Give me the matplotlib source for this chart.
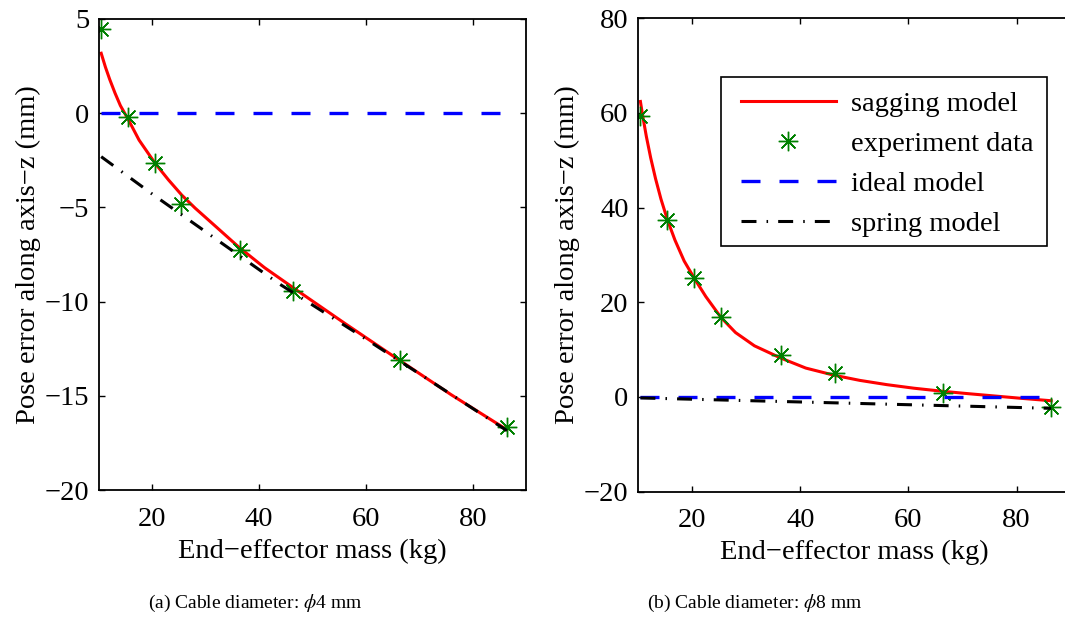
import numpy as np
import matplotlib
matplotlib.use("Agg")
import matplotlib.pyplot as plt
import matplotlib.patches as patches

plt.rcParams['font.family'] = ['Liberation Serif', 'DejaVu Serif']
plt.rcParams['mathtext.fontset'] = 'stix'

# experiment masses (kg)
mass = [10.4, 15.4, 20.4, 25.4, 36.4, 46.4, 66.4, 86.4]

# (a) cable diameter 4 mm
exp_a = [4.47, -0.19, -2.63, -4.82, -7.26, -9.44, -13.12, -16.67]
sag_a_x = [10.4, 11.2, 12.0, 13.0, 14.0, 15.5, 17.5, 20.5, 23.0, 25.5, 28.0,
           32.0, 36.1, 41.0, 46.8, 56.0, 66.3, 76.0, 86.4]
sag_a_y = [3.18, 2.44, 1.79, 1.06, 0.40, -0.35, -1.43, -2.66, -3.54, -4.35, -5.04,
           -6.05, -7.09, -8.20, -9.35, -11.15, -13.12, -14.95, -16.80]
spr_a_x = [10.4, 20.0, 30.0, 43.6, 58.3, 72.0, 86.4]
spr_a_y = [-2.31, -4.30, -6.30, -9.03, -11.68, -14.20, -16.85]

# (b) cable diameter 8 mm
exp_b = [59.4, 37.4, 25.1, 16.8, 8.9, 5.1, 0.8, -2.1]
sag_b_x = [10.4, 10.8, 11.5, 12.3, 13.2, 14.2, 15.4, 16.8, 18.5, 20.4, 22.5, 25.3,
           28.0, 31.5, 36.4, 41.0, 46.2, 51.0, 56.0, 61.0, 66.3, 71.0, 76.0, 81.0, 86.4]
sag_b_y = [62.4, 59.5, 55.0, 50.5, 46.1, 41.8, 37.4, 33.1, 28.7, 25.0, 21.2, 16.8,
           13.6, 10.8, 8.2, 6.1, 4.6, 3.5, 2.6, 1.85, 1.2, 0.7, 0.2, -0.3, -0.8]
spr_b_x = [10.4, 86.4]
spr_b_y = [-0.2, -2.4]

ideal_x = [10.4, 86.4]
ideal_y = [0, 0]

fig = plt.figure(figsize=(10.65, 6.19), dpi=100)
ax1 = fig.add_axes([0.093, 0.2084, 0.401, 0.761])
ax2 = fig.add_axes([0.5993, 0.2057, 0.406, 0.765])

star = (8, 2, 0)
fs = 20.5

def draw(ax, sx, sy, ey, px, py, ylim, yticks):
    ax.plot(sx, sy, color='red', lw=2.2, label='sagging model')
    ax.plot(mass, ey, ls='none', marker=star, ms=14, mew=1.0,
            color=(0, 0.5, 0), label='experiment data')
    ax.plot(ideal_x, ideal_y, color='blue', lw=2.4, dashes=(5.7, 5.7),
            label='ideal model')
    ax.plot(px, py, color='black', lw=2.2, dashes=(4.9, 3.3, 0.5, 3.3),
            label='spring model')
    ax.set_xlim(10, 90)
    ax.set_ylim(*ylim)
    ax.set_xticks([20, 40, 60, 80])
    ax.set_yticks(yticks)
    ax.set_yticklabels([str(t).replace('-', '\u2212') for t in yticks])
    ax.tick_params(direction='in', top=True, right=True, length=4,
                   width=1.0, labelsize=fs)
    ax.tick_params(axis='x', pad=12)
    ax.tick_params(axis='y', pad=7)
    for s in ax.spines.values():
        s.set_linewidth(1.3)
    ax.set_xlabel('End\u2212effector mass (kg)', fontsize=fs, labelpad=5)
    ax.set_ylabel('Pose error along axis\u2212z (mm)', fontsize=fs, labelpad=2.5)

draw(ax1, sag_a_x, sag_a_y, exp_a, spr_a_x, spr_a_y, (-20, 5), [-20, -15, -10, -5, 0, 5])
draw(ax2, sag_b_x, sag_b_y, exp_b, spr_b_x, spr_b_y, (-20, 80), [-20, 0, 20, 40, 60, 80])

# legend box drawn by hand (MATLAB style padding)
ax2.add_patch(patches.Rectangle((0.1906, 0.519), 0.7539, 0.3576, transform=ax2.transAxes,
                                facecolor='white', edgecolor='black', lw=1.2, zorder=4))
leg = ax2.legend(loc='upper left', bbox_to_anchor=(0.2375, 0.847), fontsize=fs,
                 frameon=False, handlelength=3.34, borderpad=0, labelspacing=0.5,
                 handletextpad=0.54, borderaxespad=0)
leg.set_zorder(5)

fig.text(0.24, 0.018, r'(a) Cable diameter: $\phi$4 mm', ha='center', fontsize=14)
fig.text(0.709, 0.018, r'(b) Cable diameter: $\phi$8 mm', ha='center', fontsize=14)

fig.savefig('out.png', dpi=100)
